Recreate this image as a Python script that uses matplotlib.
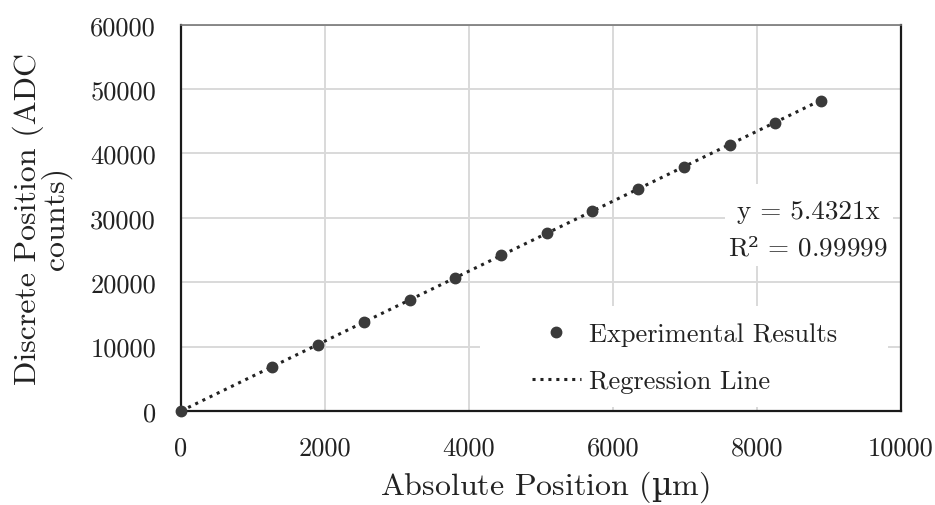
import numpy as np
import matplotlib
matplotlib.use("Agg")
import matplotlib.pyplot as plt
from matplotlib.patches import Rectangle

plt.rcParams['font.family'] = ['cmr10', 'DejaVu Serif']
# cmr10 has no µ or ², take those from DejaVu Serif through mathtext
plt.rcParams['mathtext.fontset'] = 'custom'
plt.rcParams['mathtext.rm'] = 'DejaVu Serif'

# measured positions (um) and ADC readings
position_um = [0, 1270, 1905, 2540, 3175, 3810, 4445, 5080, 5715, 6350, 6985, 7620, 8255, 8890]
adc_counts = [0, 6830, 10250, 13780, 17240, 20660, 24180, 27570, 31020, 34480, 37850, 41270, 44730, 48150]

slope = 5.4321
r_squared = 0.99999

fig = plt.figure(figsize=(9.35, 5.06), dpi=100)
ax = fig.add_axes([0.1936, 0.1858, 0.7700, 0.7634])

x = np.array(position_um, dtype=float)
y = np.array(adc_counts, dtype=float)

fit_x = np.array([0, x.max()])
ax.plot(fit_x, slope * fit_x, linestyle=(0, (1, 1.6)), color='#222222',
        lw=2.2, label='Regression Line', zorder=3)
ax.plot(x, y, 'o', color='#3a3a3a', ms=7.5, label='Experimental Results',
        zorder=4, clip_on=False)

ax.set_xlim(0, 10000)
ax.set_ylim(0, 60000)
ax.set_xticks(np.arange(0, 10001, 2000))
ax.set_yticks(np.arange(0, 60001, 10000))
ax.grid(True, color='#d9d9d9', lw=1.4)
ax.set_axisbelow(True)
ax.tick_params(length=0, labelsize=19, colors='#222222')
ax.tick_params(axis='x', pad=18)
ax.tick_params(axis='y', pad=18)

for side in ['left', 'bottom', 'right']:
    ax.spines[side].set_color('#1a1a1a')
    ax.spines[side].set_linewidth(1.6)
ax.spines['top'].set_color('#777777')
ax.spines['top'].set_linewidth(1.2)

ax.set_xlabel(r'Absolute Position ($\mathrm{µ}$m)', fontsize=23, color='#222222')
ax.xaxis.set_label_coords(0.505, -0.15)
ax.set_ylabel('Discrete Position (ADC\ncounts)', fontsize=23,
              color='#222222', linespacing=0.86)
ax.yaxis.set_label_coords(-0.152, 0.5)

# white panels behind the equation and the legend
ax.add_patch(Rectangle((0.7556, 0.375), 0.2334, 0.213, transform=ax.transAxes,
                       facecolor='white', edgecolor='none', zorder=1))
ax.add_patch(Rectangle((0.415, 0.01), 0.567, 0.262, transform=ax.transAxes,
                       facecolor='white', edgecolor='none', zorder=1))

ax.text(0.871, 0.47, 'y = %.4fx\nR$\\mathrm{²}$ = %.5f' % (slope, r_squared),
        transform=ax.transAxes, ha='center', va='center', fontsize=19.5,
        linespacing=1.65, color='#222222', zorder=5)

handles, labels = ax.get_legend_handles_labels()
leg = ax.legend(handles[::-1], labels[::-1], loc='center',
                bbox_to_anchor=(0.699, 0.138), fontsize=19, frameon=False,
                labelspacing=0.9, handlelength=1.85, handletextpad=0.3,
                borderpad=0.2)
for t in leg.get_texts():
    t.set_color('#222222')

fig.savefig('out.png', dpi=100)
